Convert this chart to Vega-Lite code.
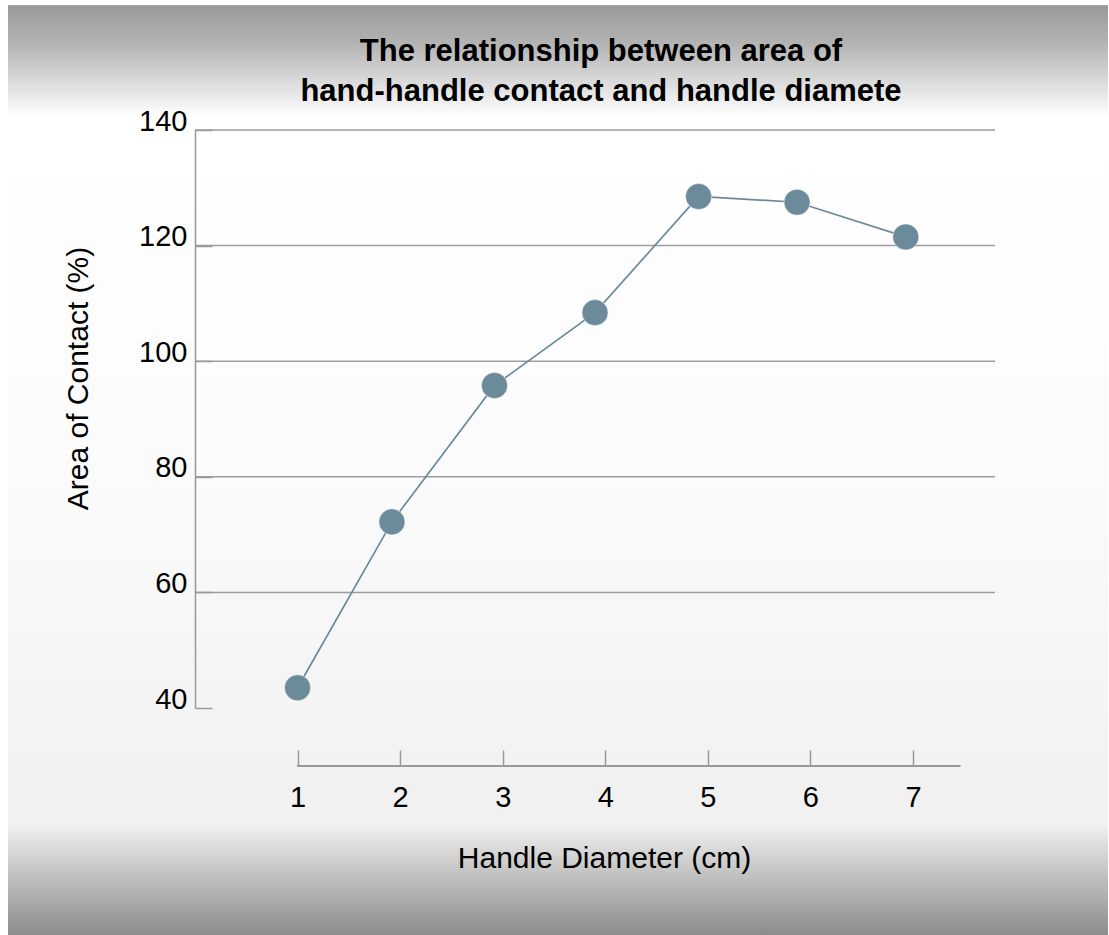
{
  "$schema": "https://vega.github.io/schema/vega-lite/v6.json",
  "width": 800,
  "height": 578,
  "autosize": {"type": "none"},
  "padding": {"left": 195, "top": 130, "right": 114, "bottom": 227},
  "background": "white",
  "config": {
    "view": {"stroke": null},
    "font": "Liberation Sans",
    "axis": {"labelFont": "Liberation Sans", "titleFont": "Liberation Sans", "labelColor": "black", "titleColor": "black", "titleFontWeight": "normal"}
  },
  "title": {
    "text": ["The relationship between area of", "hand-handle contact and handle diamete"],
    "fontSize": 31,
    "fontWeight": "bold",
    "font": "Liberation Sans",
    "color": "black",
    "lineHeight": 40,
    "offset": -102,
    "frame": "group",
    "dx": 6,
    "anchor": "middle"
  },
  "datasets": {
    "points": [
      {"diameter": 1.0, "contact": 43.5},
      {"diameter": 1.92, "contact": 72.2},
      {"diameter": 2.92, "contact": 95.8},
      {"diameter": 3.9, "contact": 108.4},
      {"diameter": 4.91, "contact": 128.5},
      {"diameter": 5.87, "contact": 127.5},
      {"diameter": 6.93, "contact": 121.5}
    ],
    "grid": [
      {"level": 60}, {"level": 80}, {"level": 100}, {"level": 120}, {"level": 140}
    ]
  },
  "data": {"name": "points"},
  "layer": [
    {
      "mark": {
        "type": "rect",
        "fill": {
          "gradient": "linear",
          "x1": 0, "y1": 0, "x2": 0, "y2": 1,
          "stops": [
            {"offset": 0, "color": "#9a9a9a"},
            {"offset": 0.04, "color": "#b3b3b3"},
            {"offset": 0.1, "color": "#ececec"},
            {"offset": 0.118, "color": "#ffffff"},
            {"offset": 0.5, "color": "#fbfbfb"},
            {"offset": 0.878, "color": "#f0f0f0"},
            {"offset": 0.92, "color": "#cbcbcb"},
            {"offset": 1, "color": "#888888"}
          ]
        }
      },
      "encoding": {
        "x": {"datum": -1.823, "type": "quantitative"},
        "x2": {"datum": 8.9},
        "y": {"datum": 0, "type": "quantitative"},
        "y2": {"datum": 161.5}
      }
    },
    {
      "data": {"name": "grid"},
      "mark": {"type": "rule", "color": "#9d9d9d", "strokeWidth": 1.5},
      "encoding": {
        "y": {"field": "level", "type": "quantitative"}
      }
    },
    {
      "mark": {"type": "rule", "color": "#999999", "strokeWidth": 1.5},
      "encoding": {
        "x": {"datum": 1, "type": "quantitative"},
        "x2": {"datum": 7.46},
        "y": {"datum": 30, "type": "quantitative"}
      }
    },
    {
      "mark": {"type": "line", "color": "#6b8a9a", "strokeWidth": 1.7},
      "encoding": {
        "x": {
          "field": "diameter", "type": "quantitative",
          "scale": {"domain": [0, 7.8], "nice": false, "zero": false},
          "axis": {
            "title": "Handle Diameter (cm)",
            "format": "d",
            "zindex": 1,
            "values": [1, 2, 3, 4, 5, 6, 7],
            "offset": 58,
            "domain": false,
            "grid": false,
            "tickSize": -16,
            "tickColor": "#999999",
            "tickWidth": 1.5,
            "labelFontSize": 29,
            "labelPadding": 33,
            "titleFontSize": 30,
            "titlePadding": 31,
            "titleX": 409
          }
        },
        "y": {
          "field": "contact", "type": "quantitative",
          "scale": {"domain": [40, 140], "nice": false, "zero": false},
          "axis": {
            "title": "Area of Contact (%)",
            "format": "d",
            "zindex": 1,
            "values": [40, 60, 80, 100, 120, 140],
            "domainColor": "#999999",
            "domainWidth": 1.5,
            "tickSize": -17,
            "tickColor": "#999999",
            "tickWidth": 1.5,
            "grid": false,
            "labelOffset": -9,
            "labelPadding": 25,
            "labelFontSize": 29,
            "titleFontSize": 30,
            "titlePadding": 45,
            "titleY": 248
          }
        }
      }
    },
    {
      "mark": {"type": "point", "filled": true, "opacity": 1, "size": 680, "color": "#6b8a9a", "stroke": "#ffffff", "strokeWidth": 0.5},
      "encoding": {
        "x": {"field": "diameter", "type": "quantitative"},
        "y": {"field": "contact", "type": "quantitative"}
      }
    }
  ]
}
